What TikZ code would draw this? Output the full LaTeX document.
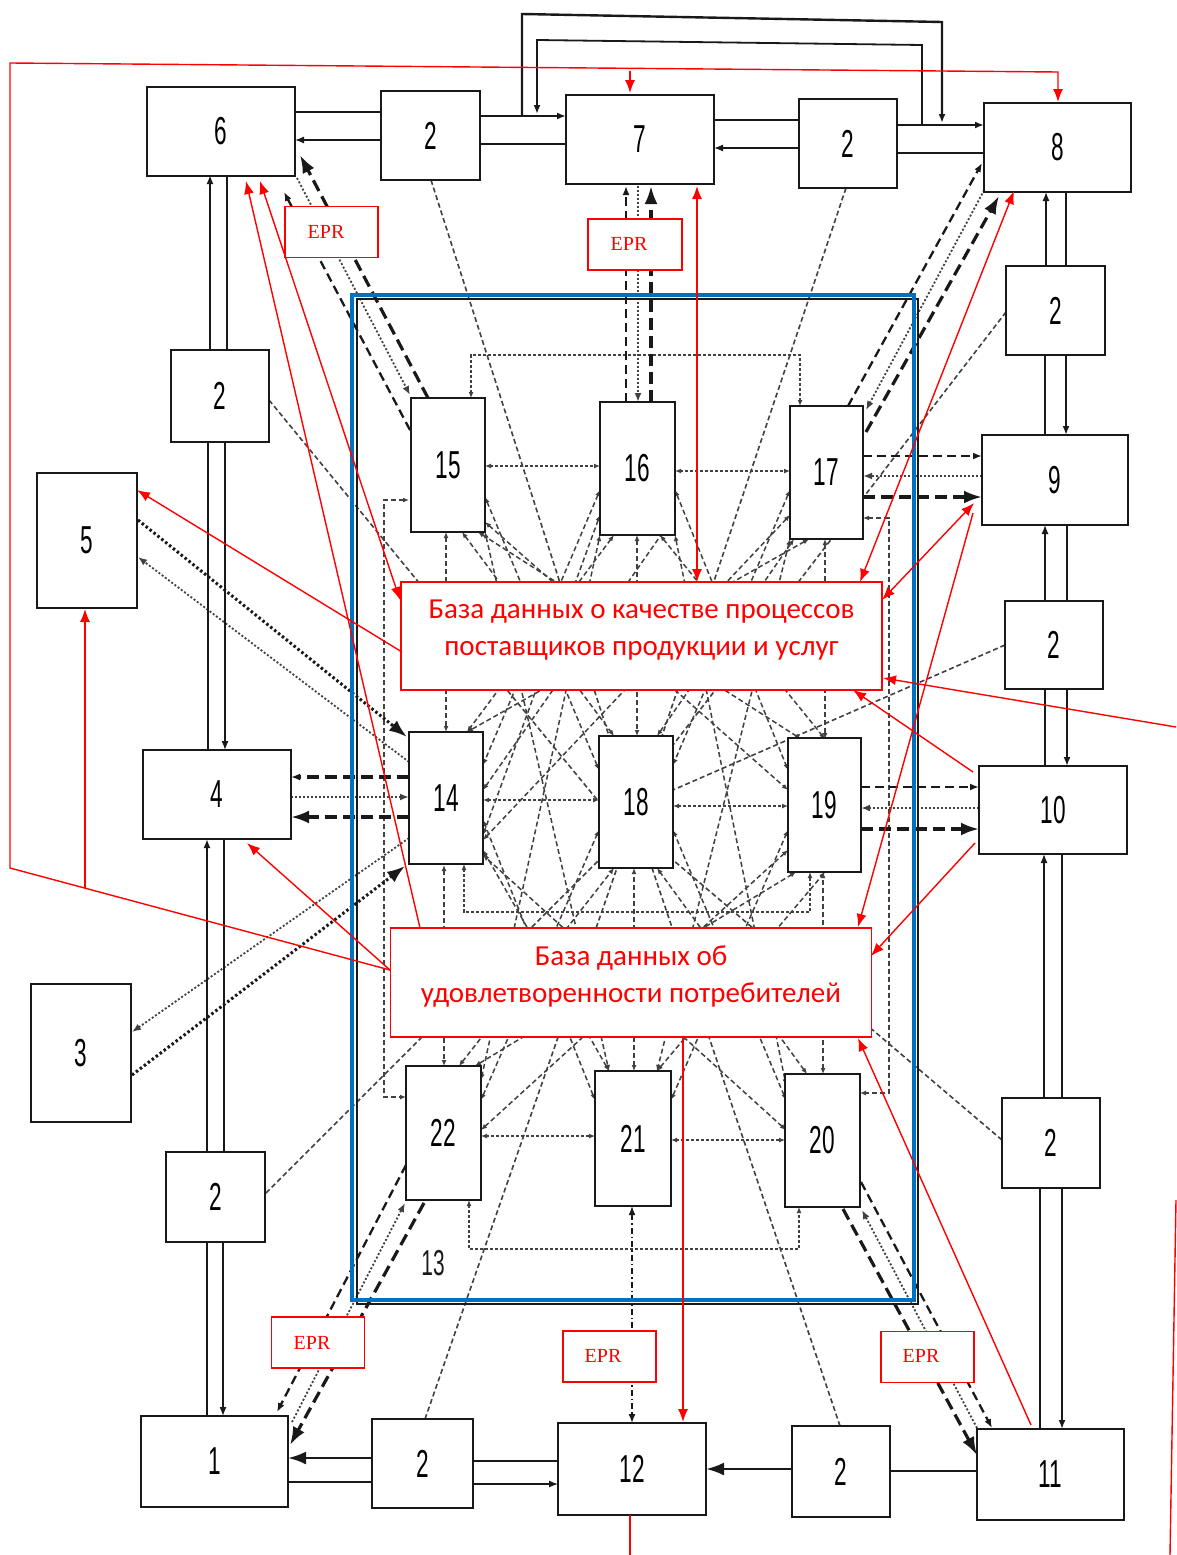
\documentclass[tikz,border=0pt]{standalone}
\usepackage{fontspec}
\setmainfont{Liberation Sans}
\newfontfamily\numfont[FakeStretch=0.58]{Liberation Sans}
\newfontfamily\dbfont{Carlito}
\newfontfamily\eprfont{Liberation Serif}
\usetikzlibrary{arrows.meta}
\definecolor{ink}{RGB}{25,25,25}
\definecolor{gry}{RGB}{65,65,65}
\definecolor{rd}{RGB}{255,0,0}
\definecolor{bl}{RGB}{0,112,192}
\newcommand\bx[6]{\node[blk,minimum width={#4-#2},minimum height={#5-#3}] (#1) at ({(#2+#4)/2},{(#3+#5)/2}) {#6};}
\begin{document}
\begin{tikzpicture}[x=1pt,y=-1pt,
  blk/.style={draw=ink,line width=2.4pt,fill=white,inner sep=0pt,font=\numfont\fontsize{39}{40}\selectfont},
  thk/.style={draw=ink,line width=2.6pt},
  thn/.style={draw=ink,line width=1.3pt},
  sm/.tip={Latex[length=9pt,width=7pt]},
  bg/.tip={Latex[length=18pt,width=13pt]},
  ms/.tip={Latex[length=6pt,width=5pt]},
  rt/.tip={Latex[length=13pt,width=10pt]},
  dashA/.style={draw=ink,line width=2.3pt,dash pattern=on 9pt off 5pt},
  dashC/.style={draw=ink,line width=3.2pt,dash pattern=on 12pt off 6pt},
  dotB/.style={draw=gry,line width=1.8pt,dash pattern=on 2pt off 2pt},
  thickdot/.style={draw=ink,line width=3pt,dash pattern=on 2.5pt off 2.5pt},
  mesh/.style={draw=gry,line width=1.5pt,dash pattern=on 5pt off 3pt,ms-ms},
  gline/.style={draw=gry,line width=1.6pt,dash pattern=on 5pt off 3pt},
  loopd/.style={draw=gry,line width=2.2pt,dash pattern=on 3pt off 2pt,ms-ms},
  redl/.style={draw=rd,line width=1.4pt},
  rbox/.style={draw=rd,line width=1.5pt,fill=white,inner sep=0pt},
  eprt/.style={text=rd,font=\eprfont\fontsize{20}{22}\selectfont,inner sep=0pt},
  dbt/.style={text=rd,font=\dbfont\fontsize{29}{37}\selectfont,align=center,inner sep=0pt}]
\useasboundingbox (0,0) rectangle (1176,1555);
\fill[white] (0,0) rectangle (1176,1555);

% grey lines from the "2" blocks to 18
\draw[gline] (431,180) -- (609,736);
\draw[gline] (846,188) -- (662,736);
\draw[gline] (269,400) -- (599,802);
\draw[gline] (266,1193) -- (599,860);
\draw[gline] (1006,312) -- (673,745);
\draw[gline] (1005,645) -- (673,790);
\draw[gline] (1002,1140) -- (673,860);
\draw[gline] (425,1419) -- (617,868);
\draw[gline] (840,1426) -- (652,868);

% inner mesh
\foreach \a/\b/\c/\d in {446/532/446/732, 462/532/614/736, 478/532/801/739, 614/535/467/732, 637/535/637/736, 660/535/825/739, 794/539/657/736, 809/539/467/732, 825/539/825/739,
 485/497/599/770, 485/522/788/790, 600/490/483/765, 600/515/483/835, 675/490/788/770, 675/515/483/790, 790/490/673/765, 790/515/483/840,
 485/532/609/1071, 790/539/657/1071, 600/535/481/1080, 675/535/786/1085,
 444/865/444/1066, 459/1066/614/868, 475/1066/796/872, 609/1071/483/850, 634/1071/634/868, 657/1071/825/872, 807/1074/657/868, 823/1074/823/872,
 481/1100/599/830, 595/1100/483/820, 671/1100/788/830, 786/1100/673/830, 481/1130/788/850, 786/1130/483/855}
  \draw[mesh] (\a,\b) -- (\c,\d);

% loops inside 13
\draw[loopd] (471,398) -- (471,355) -- (800,355) -- (800,406);
\draw[loopd] (464,864) -- (464,912) -- (810,912) -- (810,872);
\draw[loopd] (469,1200) -- (469,1249) -- (799,1249) -- (799,1207);
\draw[mesh,line width=1.7pt] (409,500) -- (384,500) -- (384,1097) -- (406,1097);
\draw[mesh,line width=1.7pt] (863,518) -- (889,518) -- (889,1093) -- (860,1093);
\draw[loopd] (485,466) -- (600,466);
\draw[loopd] (675,471) -- (790,471);
\draw[loopd] (483,800) -- (599,800);
\draw[loopd] (673,806) -- (788,806);
\draw[loopd] (481,1136) -- (595,1136);
\draw[loopd] (671,1140) -- (785,1140);

% bundles to outer blocks
\draw[dashA,-sm] (410,430) -- (284,192);
\draw[dotB,-sm] (297,178) -- (410,395);
\draw[dashC,-bg] (428,398) -- (300,155);

\draw[dashA,-sm] (626,402) -- (626,186);
\draw[dotB,-sm] (638,186) -- (638,402);
\draw[dashC,-bg] (651,402) -- (651,186);

\draw[dashA,-sm] (848,406) -- (982,163);
\draw[dotB,-sm] (988,183) -- (866,410);
\draw[dashC,-bg] (866,432) -- (999,196);

\draw[dashA,-sm] (863,456) -- (982,456);
\draw[dotB,-sm] (982,476) -- (863,476);
\draw[dashC,-bg] (863,497) -- (982,497);

\draw[dashA,-sm] (861,787) -- (979,787);
\draw[dotB,-sm] (979,808) -- (861,808);
\draw[dashC,-bg] (861,829) -- (979,829);

\draw[dashC,-sm] (409,777) -- (291,777);
\draw[dotB,-sm] (291,797) -- (409,797);
\draw[dashC,-bg] (409,817) -- (291,817);

\draw[thickdot,-bg] (138,520) -- (407,737);
\draw[dotB,-sm] (409,762) -- (138,557);
\draw[dotB,-sm] (409,838) -- (132,1032);
\draw[thickdot,-bg] (132,1075) -- (405,866);

\draw[dashA,-sm] (406,1165) -- (277,1412);
\draw[dotB,-sm] (292,1422) -- (405,1203);
\draw[dashC,-bg] (424,1203) -- (290,1445);

\draw[dashA,-sm] (861,1182) -- (992,1428);
\draw[dotB,-sm] (977,1428) -- (862,1210);
\draw[dashC,-bg] (843,1209) -- (977,1455);

\draw[draw=ink,line width=1.5pt,dash pattern=on 6pt off 3pt on 1.5pt off 3pt,sm-sm] (632,1206) -- (632,1423);

% solid connectors
\draw[draw=ink,line width=2.4pt,-sm] (522,116) -- (522,14) -- (942,22) -- (942,123);
\draw[draw=ink,line width=1.8pt,-sm] (922,124) -- (922,45) -- (537,40) -- (537,114);
\draw[thk] (295,112) -- (381,112);
\draw[thn,-sm] (381,140) -- (295,140);
\draw[thk,-sm] (480,116) -- (566,116);
\draw[thn] (566,144) -- (480,144);
\draw[thk] (714,120) -- (799,120);
\draw[thn,-sm] (799,148) -- (714,148);
\draw[thk,-sm] (897,125) -- (984,125);
\draw[thn] (984,153) -- (897,153);

\draw[thn,-sm] (1046,266) -- (1046,192);
\draw[thk] (1066,192) -- (1066,266);
\draw[thk,-sm] (1066,355) -- (1066,435);
\draw[thn] (1045,435) -- (1045,355);
\draw[thn,-sm] (1045,601) -- (1045,525);
\draw[thk] (1067,525) -- (1067,601);
\draw[thk,-sm] (1067,689) -- (1067,766);
\draw[thn] (1045,766) -- (1045,689);
\draw[thn,-sm] (1044,1098) -- (1044,854);
\draw[thk] (1062,854) -- (1062,1098);
\draw[thk,-sm] (1062,1188) -- (1062,1429);
\draw[thn] (1040,1429) -- (1040,1188);

\draw[thk] (977,1471) -- (890,1471);
\draw[thk,-bg] (792,1469) -- (706,1469);
\draw[thk] (558,1461) -- (473,1461);
\draw[thn,-sm] (473,1484) -- (558,1484);
\draw[thk,-bg] (372,1458) -- (288,1458);
\draw[thn] (288,1482) -- (372,1482);

\draw[thk] (207,1416) -- (207,1242);
\draw[thn,-sm] (223,1242) -- (223,1416);
\draw[thk,-sm] (207,1152) -- (207,839);
\draw[thn] (224,839) -- (224,1152);
\draw[thk] (208,750) -- (208,442);
\draw[thn,-sm] (225,442) -- (225,750);
\draw[thk,-sm] (210,350) -- (210,175);
\draw[thn] (227,175) -- (227,350);

% blocks
\bx{b6}{147}{87}{295}{176}{6}
\bx{b2a}{381}{91}{480}{180}{2}
\bx{b7}{566}{95}{714}{184}{7}
\bx{b2b}{799}{99}{897}{188}{2}
\bx{b8}{984}{103}{1131}{192}{8}
\bx{b2c}{1006}{266}{1105}{355}{2}
\bx{b9}{982}{435}{1128}{525}{9}
\bx{b2d}{1005}{601}{1103}{689}{2}
\bx{b10}{979}{766}{1127}{854}{10}
\bx{b2e}{1002}{1098}{1100}{1188}{2}
\bx{b11}{977}{1429}{1124}{1520}{11}
\bx{b2f}{792}{1426}{890}{1517}{2}
\bx{b12}{558}{1423}{706}{1515}{12}
\bx{b2g}{372}{1419}{473}{1508}{2}
\bx{b1}{141}{1416}{288}{1507}{1}
\bx{b2h}{166}{1152}{265}{1242}{2}
\bx{b3}{31}{984}{131}{1122}{3}
\bx{b4}{143}{750}{291}{839}{4}
\bx{b2i}{171}{350}{269}{442}{2}
\bx{b5}{37}{473}{137}{608}{5}

\bx{b15}{411}{398}{485}{532}{15}
\bx{b16}{600}{402}{675}{535}{16}
\bx{b17}{790}{406}{863}{539}{17}
\bx{b14}{409}{732}{483}{864}{14}
\bx{b18}{599}{736}{673}{868}{18}
\bx{b19}{788}{738}{861}{872}{19}
\bx{b22}{406}{1066}{481}{1200}{22}
\bx{b21}{595}{1071}{671}{1206}{21}
\bx{b20}{785}{1074}{860}{1207}{20}

% frame 13
\draw[draw=ink,line width=2pt] (357,299) rectangle (918,1304);
\draw[draw=bl,line width=4.5pt] (352,295) rectangle (914,1300);
\node[font=\numfont\fontsize{36}{38}\selectfont,text=ink] (l13) at (433,1263) {13};

% databases
\node[rbox,minimum width=481,minimum height=108] (db1) at (641.5,636) {};
\node[dbt] (db1t) at (641.5,630) {База данных о качестве процессов\\поставщиков продукции и услуг};
\node[rbox,minimum width=481,minimum height=109] (db2) at (631,982.5) {};
\node[dbt] (db2t) at (631,976) {База данных об\\удовлетворенности потребителей};

% EPR
\node[rbox,minimum width=93,minimum height=51] (e1) at (331.5,232) {};
\node[eprt] (e1t) at (326,232) {EPR};
\node[rbox,minimum width=94,minimum height=51] (e2) at (635,244.5) {};
\node[eprt] (e2t) at (629,244) {EPR};
\node[rbox,minimum width=93,minimum height=51] (e3) at (318,1342.5) {};
\node[eprt] (e3t) at (312,1343) {EPR};
\node[rbox,minimum width=93,minimum height=51] (e4) at (609.5,1356.5) {};
\node[eprt] (e4t) at (603,1356) {EPR};
\node[rbox,minimum width=93,minimum height=51] (e5) at (927.5,1357) {};
\node[eprt] (e5t) at (921,1356) {EPR};

% red arrows
\draw[redl,-rt] (390,970) -- (10,868) -- (10,63) -- (1058,72) -- (1058,102);
\draw[redl,-rt] (630,71) -- (630,93);
\draw[redl,-rt] (85,888) -- (85,609);
\draw[redl,-rt] (402,652) -- (137,490);
\draw[redl,rt-rt] (400,600) -- (260,181);
\draw[redl,-rt] (420,928) -- (246,181);
\draw[redl,rt-rt] (697,582) -- (697,186);
\draw[redl,rt-rt] (860,582) -- (1014,191);
\draw[redl,rt-rt] (882,600) -- (974,503);
\draw[redl,-rt] (1176,727) -- (883,678);
\draw[redl,-rt] (973,772) -- (853,690);
\draw[redl,-rt] (973,513) -- (858,927);
\draw[redl,-rt] (975,843) -- (871,956);
\draw[redl,-rt] (1031,1425) -- (858,1038);
\draw[redl,-rt] (683,1037) -- (683,1422);
\draw[redl,-rt] (390,970) -- (247,843);
\draw[redl] (630,1515) -- (630,1555);
\draw[redl] (1176,1200) -- (1170,1555);
\end{tikzpicture}
\end{document}
